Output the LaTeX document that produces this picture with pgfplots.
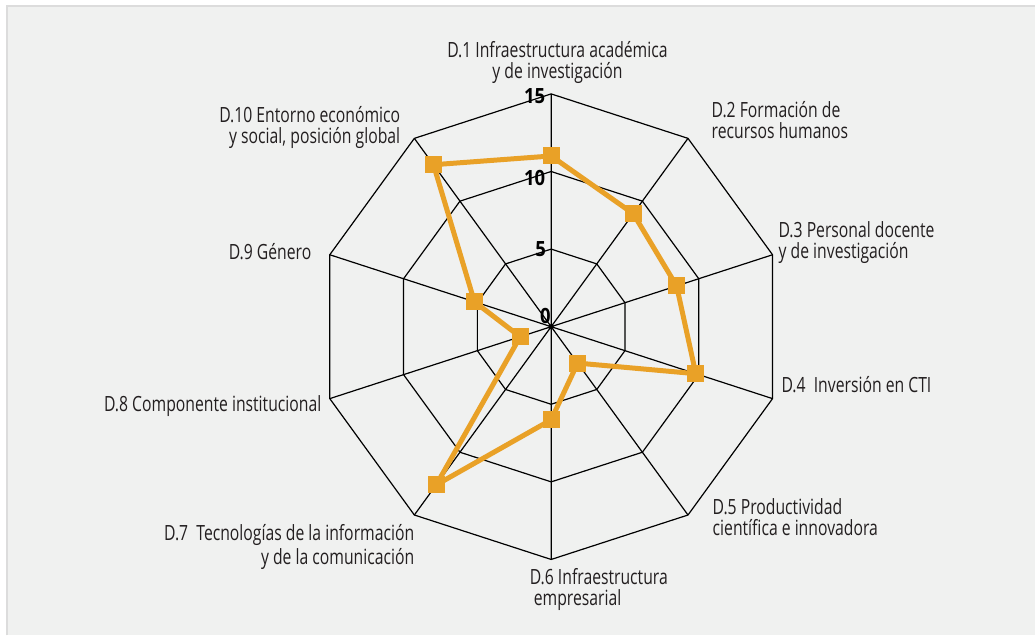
\documentclass[border=0pt]{standalone}
\usepackage{fontspec}
\setmainfont{Open Sans}[FakeStretch=0.75]
\newfontfamily\tickfont{Open Sans}[FakeStretch=0.88]
\usepackage{pgfplots}
\pgfplotsset{compat=1.18}
\usepgfplotslibrary{polar}
\usetikzlibrary{backgrounds,calc}

\definecolor{bggray}{HTML}{F0F1F0}
\definecolor{framegray}{HTML}{DCDCDC}
\definecolor{serie}{HTML}{E9A127}
\definecolor{texto}{HTML}{231F20}

\begin{document}
\begin{tikzpicture}[
    lbl/.style={font=\fontsize{10.5}{10.5}\selectfont, text=texto, inner sep=0pt},
    tck/.style={font=\tickfont\bfseries\fontsize{10.5}{10.5}\selectfont, anchor=east, inner sep=0pt},
]
\begin{polaraxis}[
    width=233pt, height=233pt,
    scale only axis,
    ymin=0, ymax=15,
    xtick={18,54,90,126,162,198,234,270,306,342},
    xticklabels={},
    ytick=\empty,
    xmajorgrids,
    major grid style={black, line width=0.6pt},
    axis line style={draw=none},
    major tick length=0pt,
    clip=false,
]
\coordinate (C) at (axis cs:0,0);

% decagon rings
\addplot[black, line width=0.6pt, line join=miter] coordinates {
    (90,5) (54,5) (18,5) (342,5) (306,5) (270,5) (234,5) (198,5) (162,5) (126,5) (90,5)
};
\addplot[black, line width=0.6pt, line join=miter] coordinates {
    (90,10) (54,10) (18,10) (342,10) (306,10) (270,10) (234,10) (198,10) (162,10) (126,10) (90,10)
};
\addplot[black, line width=0.6pt, line join=miter] coordinates {
    (90,15) (54,15) (18,15) (342,15) (306,15) (270,15) (234,15) (198,15) (162,15) (126,15) (90,15)
};

% serie
\addplot[serie, line width=2.5pt, line join=round,
    mark=square*, mark size=4pt, mark options={solid, fill=serie, draw=serie, line width=0pt}]
coordinates {
    (90,11.0) (54,9.0) (18,8.5) (342,9.8) (306,2.9) (270,6.0)
    (234,12.6) (198,2.1) (162,5.2) (126,12.9) (90,11.0)
};

% radial scale
\node[tck] at ([xshift=-2.8pt,yshift=-1pt]axis cs:90,15) {15};
\node[tck] at ([xshift=-2.8pt,yshift=-3.5pt]axis cs:90,10) {10};
\node[tck] at ([xshift=-2.4pt,yshift=0pt]axis cs:90,5) {5};
\node[tck] at ([xshift=0pt,yshift=5.5pt]axis cs:90,0) {0};
\end{polaraxis}

% category labels
\node[lbl, align=center] at ($(C)+(3.15pt,132.25pt)$) {D.1 Infraestructura académica\\y de investigación};
\node[lbl, align=left, anchor=west] at ($(C)+(80.15pt,103.5pt)$) {D.2 Formación de\\recursos humanos};
\node[lbl, align=left, anchor=west] at ($(C)+(113.65pt,42.25pt)$) {D.3 Personal docente\\y de investigación};
\node[lbl, align=left, anchor=west] at ($(C)+(115.15pt,-29pt)$) {D.4\ \ Inversión en CTI};
\node[lbl, align=left, anchor=west] at ($(C)+(80.65pt,-95.25pt)$) {D.5 Productividad\\científica e innovadora};
\node[lbl, align=left, anchor=west] at ($(C)+(-10.85pt,-131.75pt)$) {D.6 Infraestructura\\\hspace{2pt}empresarial};
\node[lbl, align=right, anchor=east] at ($(C)+(-68.35pt,-110.25pt)$) {D.7\ \ Tecnologías de la información\\y de la comunicación};
\node[lbl, align=right, anchor=east] at ($(C)+(-114.85pt,-39.5pt)$) {D.8 Componente institucional};
\node[lbl, align=right, anchor=east] at ($(C)+(-119.85pt,37.5pt)$) {D.9 Género};
\node[lbl, align=right, anchor=east] at ($(C)+(-75.35pt,99.5pt)$) {D.10 Entorno económico\\y social, posición global};

% panel
\begin{scope}[on background layer]
\fill[white] ($(C)+(-275.85pt,163.5pt)$) rectangle ($(C)+(242.15pt,-154.5pt)$);
\fill[bggray] ($(C)+(-272.35pt,160.5pt)$) rectangle ($(C)+(242.15pt,-154.5pt)$);
\draw[framegray, line width=1pt] ($(C)+(-272.35pt,-154.5pt)$) -- ($(C)+(-272.35pt,160.5pt)$) -- ($(C)+(242.15pt,160.5pt)$);
\end{scope}
\end{tikzpicture}
\end{document}
